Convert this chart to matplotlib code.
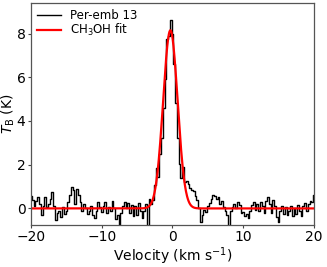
import matplotlib
matplotlib.use('Agg')
import matplotlib.pyplot as plt
import numpy as np


# ---------- spectrum (channels of 0.25 km/s from -20 to 20) ----------
velocity = np.linspace(-20, 20, 161)
tb = [
    0.55, 0.40, 0.10, 0.35, 0.50, 0.20, -0.30, 0.10,
    0.50, 0.05, 0.20, 0.45, 0.75, 0.10, -0.55, -0.20,
    -0.10, -0.40, 0.05, -0.25, -0.10, 0.30, 0.60, 1.00,
    0.85, 0.20, 0.90, 0.60, 0.30, -0.10, 0.20, 0.00,
    -0.25, -0.10, 0.10, -0.30, -0.45, -0.10, 0.30, 0.05,
    -0.15, 0.10, 0.30, -0.20, 0.05, -0.10, 0.35, 0.00,
    -0.50, -0.30, -0.80, -0.20, 0.10, 0.30, 0.00, 0.25,
    -0.20, 0.15, -0.35, 0.10, -0.30, 0.25, -0.10, -0.45,
    -0.10, 0.20, -0.85, 0.45, 0.20, 0.40, 1.05, 1.85,
    1.45, 2.50, 3.20, 4.60, 5.90, 7.75, 7.90, 8.60,
    8.00, 6.60, 4.80, 3.20, 2.05, 1.40, 1.90, 1.20,
    1.25, 1.10, 0.95, 0.85, 0.80, 0.55, 0.40, 0.00,
    -0.60, -0.30, -0.05, -0.15, 0.10, 0.25, 0.45, 0.60,
    0.55, 0.45, 0.50, 0.20, 0.35, 0.05, -0.10, -0.30,
    -0.80, -0.10, 0.05, 0.20, 0.00, 0.30, 0.15, -0.20,
    -0.15, -0.35, -0.25, -0.45, -0.10, 0.15, 0.30, -0.05,
    0.20, -0.10, 0.30, 0.10, -0.20, 0.35, 0.50, 0.20,
    -0.20, 0.40, 0.10, -0.40, -0.60, -0.10, 0.10, -0.25,
    0.05, -0.30, -0.10, 0.10, -0.35, 0.00, -0.25, 0.15,
    -0.10, -0.35, 0.10, 0.25, -0.10, 0.20, 0.35, 0.30,
    0.60,
]

# ---------- gaussian fit parameters ----------
fit_amp = 8.15
fit_center = -0.3
fit_fwhm = 2.4

v_fit = np.linspace(-20, 20, 1000)
sigma = fit_fwhm / 2.3548
t_fit = fit_amp * np.exp(-0.5 * ((v_fit - fit_center) / sigma) ** 2)

fig = plt.figure(figsize=(3.27, 2.67), dpi=100)
ax = fig.add_axes([0.095, 0.158, 0.865, 0.831])

ax.plot(velocity, tb, color='black', lw=1.0, drawstyle='steps-mid', label='Per-emb 13')
ax.plot(v_fit, t_fit, color='red', lw=1.6, label=r'CH$_3$OH fit')

ax.set_xlim(-20, 20)
ax.set_ylim(-0.75, 9.4)
ax.set_xticks([-20, -10, 0, 10, 20])
ax.set_yticks([0, 2, 4, 6, 8])
ax.tick_params(labelsize=10, length=2, pad=2, width=0.8, color='#444444')
for s in ax.spines.values():
    s.set_color('#555555')
    s.set_linewidth(0.9)
ax.set_xlabel(r'Velocity (km s$^{-1}$)', fontsize=10, labelpad=1)
ax.set_ylabel(r'$T_{\rm B}$ (K)', fontsize=10, labelpad=0)
ax.legend(loc='upper left', frameon=False, fontsize=8.5, handlelength=2.0,
          handletextpad=0.8, borderaxespad=0.1, labelspacing=0.0)

fig.savefig('out.png', dpi=100)
